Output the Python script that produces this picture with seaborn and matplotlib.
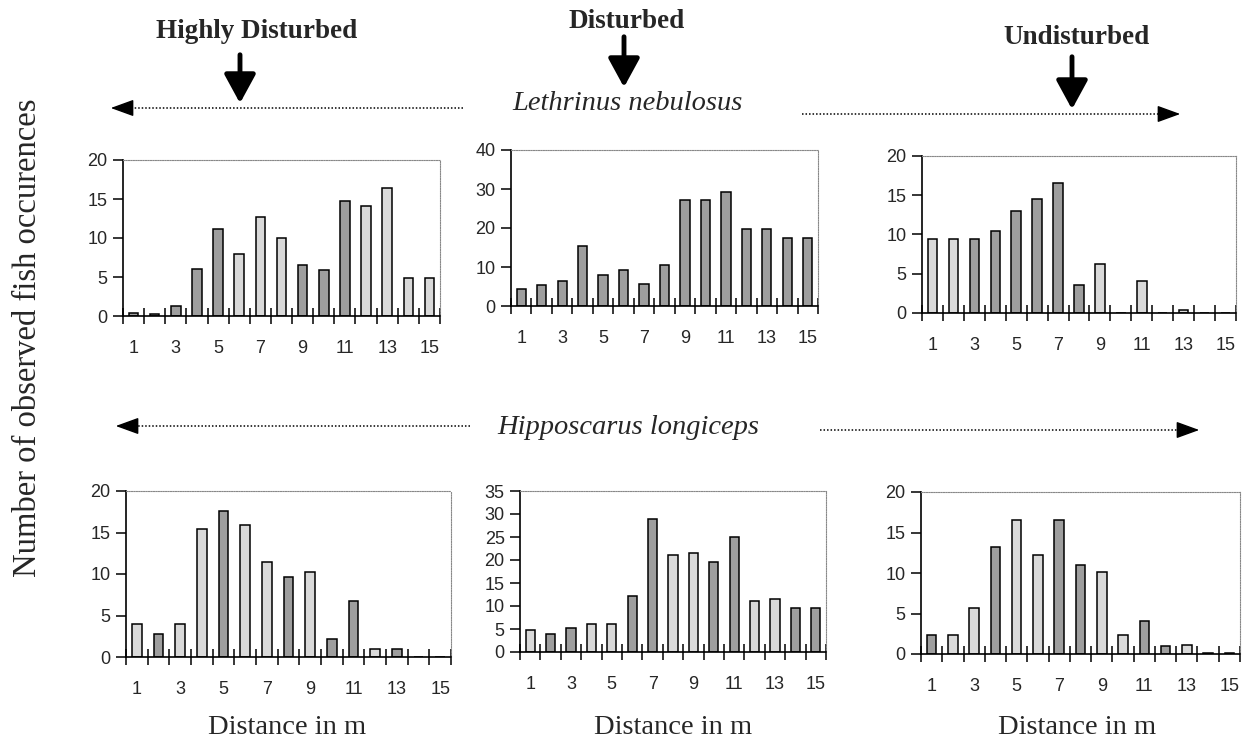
import pandas as pd
import seaborn as sns
import matplotlib.pyplot as plt
from matplotlib.lines import Line2D
from matplotlib.patches import FancyArrowPatch

W, H = 1246, 744

distances = [str(d) for d in range(1, 16)]

# Lethrinus nebulosus (top row)
leth_high = [0.35, 0.3, 1.3, 6.0, 11.1, 8.0, 12.7, 10.0, 6.6, 5.9, 14.7, 14.1, 16.4, 4.9, 4.9]
leth_high_shade = "DDDDDLLLDDDLLLL"
leth_dist = [4.4, 5.3, 6.5, 15.3, 7.9, 9.2, 5.7, 10.6, 27.3, 27.3, 29.2, 19.7, 19.7, 17.5, 17.5]
leth_dist_shade = "DDDDDDDDDDDDDDD"
leth_undist = [9.4, 9.4, 9.4, 10.4, 13.0, 14.5, 16.6, 3.6, 6.2, 0, 4.1, 0, 0.4, 0, 0]
leth_undist_shade = "LLDDDDDDLLLLLLL"

# Hipposcarus longiceps (bottom row)
hipp_high = [4.0, 2.8, 4.0, 15.4, 17.6, 15.9, 11.4, 9.6, 10.2, 2.2, 6.8, 1.0, 1.0, 0, 0]
hipp_high_shade = "LDLLDLLDLDDLDLL"
hipp_dist = [4.8, 4.0, 5.3, 6.1, 6.1, 12.1, 28.9, 21.0, 21.5, 19.6, 25.0, 11.0, 11.6, 9.5, 9.5]
hipp_dist_shade = "LDDLLDDLLDDLLDD"
hipp_undist = [2.4, 2.4, 5.7, 13.2, 16.5, 12.2, 16.5, 11.0, 10.1, 2.4, 4.1, 1.0, 1.1, 0.1, 0.1]
hipp_undist_shade = "DLLDLLDDLLDDLDD"

shade_colors = {"L": "#d9d9d9", "D": "#9e9e9e"}

sns.set_style("white")
plt.rcParams["font.family"] = ["Liberation Sans", "DejaVu Sans"]

fig = plt.figure(figsize=(W / 100, H / 100), dpi=100)


def rect(l, t, r, b):
    return [l / W, 1 - b / H, (r - l) / W, (b - t) / H]


def fx(x):
    return x / W


def fy(y):
    return 1 - y / H


def panel(box, values, shades, ymax, ystep):
    ax = fig.add_axes(rect(*box))
    df = pd.DataFrame({"dist": distances, "count": values, "shade": list(shades)})
    sns.barplot(df, x="dist", y="count", hue="shade", palette=shade_colors,
                order=distances, dodge=False, width=0.45, edgecolor="black",
                linewidth=1.1, legend=False, ax=ax)
    ax.set_xlim(-0.5, 14.5)
    ax.set_ylim(0, ymax)
    ax.set_yticks(range(0, ymax + 1, ystep))
    ax.set_xticks([i - 0.5 for i in range(16)])
    ax.set_xticklabels([])
    ax.set_xticks(range(0, 15, 2), minor=True)
    ax.set_xticklabels([distances[i] for i in range(0, 15, 2)], minor=True)
    ax.tick_params(axis="x", which="major", bottom=True, direction="inout",
                   length=11, width=1.1, color="black")
    ax.tick_params(axis="x", which="minor", bottom=True, length=0, pad=17, labelsize=13)
    ax.tick_params(axis="y", left=True, direction="out", length=7, width=1.1,
                   color="black", labelsize=13, pad=4)
    ax.set_xlabel("")
    ax.set_ylabel("")
    for s in ["top", "right"]:
        ax.spines[s].set_linestyle((0, (1, 1.2)))
        ax.spines[s].set_color("#888888")
        ax.spines[s].set_linewidth(0.8)
    for s in ["left", "bottom"]:
        ax.spines[s].set_color("black")
        ax.spines[s].set_linewidth(1.2)
    return ax


panel((123, 160, 440, 316), leth_high, leth_high_shade, 20, 5)
panel((511, 150, 818, 306), leth_dist, leth_dist_shade, 40, 10)
panel((922, 156, 1236, 313), leth_undist, leth_undist_shade, 20, 5)
panel((126, 491, 451, 657), hipp_high, hipp_high_shade, 20, 5)
panel((520, 491, 826, 652), hipp_dist, hipp_dist_shade, 35, 5)
panel((921, 492, 1240, 654), hipp_undist, hipp_undist_shade, 20, 5)

serif = ["Liberation Serif", "DejaVu Serif"]

# site headers with bold arrows
for label, tx, ty, ax_x, y0, y1 in [("Highly Disturbed", 257, 32, 240, 52, 106),
                                    ("Disturbed", 627, 22, 624, 34, 90),
                                    ("Undisturbed", 1077, 37, 1072, 54, 112)]:
    fig.text(fx(tx), fy(ty), label, family=serif, weight="bold", fontsize=19.5,
             ha="center", va="center")
    fig.add_artist(FancyArrowPatch(
        (fx(ax_x), fy(y0)), (fx(ax_x), fy(y1)), transform=fig.transFigure,
        arrowstyle="-|>,head_width=6,head_length=11", mutation_scale=1.6,
        lw=3.5, color="black"))

# species names with dotted arrows
for name, ny, segs in [("Lethrinus nebulosus", 104, [(463, 108, 108, 108), (802, 114, 1183, 114)]),
                       ("Hipposcarus longiceps", 427, [(470, 426, 113, 426), (820, 430, 1202, 430)])]:
    fig.text(fx(628), fy(ny), name, family=serif, style="italic", fontsize=20.5,
             ha="center", va="center")
    for x0, y0, x1, y1 in segs:
        step = 12 if x1 > x0 else -12
        fig.add_artist(Line2D([fx(x0), fx(x1 - step)], [fy(y0), fy(y1)],
                              transform=fig.transFigure, color="black",
                              lw=1.1, linestyle=(0, (1, 1.3))))
        fig.add_artist(FancyArrowPatch(
            (fx(x1 - step * 1.2), fy(y1)), (fx(x1), fy(y1)), transform=fig.transFigure,
            arrowstyle="-|>,head_width=4,head_length=11", mutation_scale=1.3,
            lw=1, color="black"))

fig.text(fx(28), fy(338), "Number of observed fish occurences", family=serif,
         fontsize=23.5, rotation=90, ha="center", va="center")
for x in [287, 673, 1077]:
    fig.text(fx(x), fy(728), "Distance in m", family=serif, fontsize=20.5,
             ha="center", va="center")

fig.savefig("out.png", dpi=100)
